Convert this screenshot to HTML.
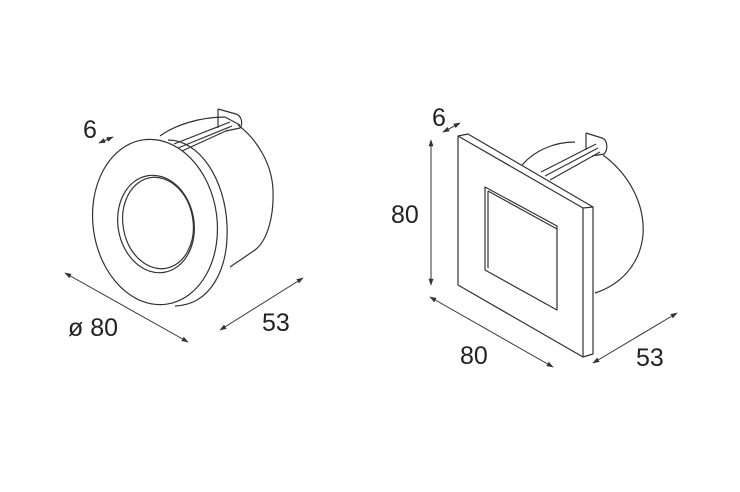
<!DOCTYPE html>
<html><head><meta charset="utf-8"><style>
html,body{margin:0;padding:0;background:#fff;}
svg{display:block;}
text{font-family:"Liberation Sans",Arial,sans-serif;fill:#222;}
</style></head><body>
<svg width="740" height="492" viewBox="0 0 740 492" xmlns="http://www.w3.org/2000/svg">
<defs>
<marker id="a" viewBox="0 0 10 10" refX="9" refY="5" markerWidth="7" markerHeight="7" orient="auto-start-reverse"><path d="M0,1.5 L10,5 L0,8.5 z" fill="#333"/></marker>
</defs>
<g fill="none" stroke="#333" stroke-width="1.2" stroke-linejoin="round">
<path d="M160,136 C175,125 200,117 225,117 M238,125 C258,140 272,165 273,190 C274,215 268,240 255,250 L230,267"/>
<path d="M225,117 L240,125"/>
<path d="M218,109 L236,114 C242,116 243,124 240,128 L226,131"/>
<path d="M218,109 L218,128"/>
<path d="M232,126 L178,148 M230,122 L174,144 M228,130 L182,151"/>
<path d="M168,140 C200,140 225,180 227,225 C229,270 210,305 175,306"/>
<ellipse cx="155" cy="222" rx="62" ry="83" transform="rotate(-8 155 222)" fill="#fff"/>
<ellipse cx="156" cy="224" rx="38" ry="49" transform="rotate(-10 156 224)"/>
<ellipse cx="158" cy="223" rx="35" ry="46" transform="rotate(-10 158 223)"/>

<path d="M522,165 C535,150 555,142 575,142"/>
<path d="M603,155 C630,175 645,205 643,235 C640,265 620,285 595,293"/>
<path d="M586,133 L602,138 C608,140 608,150 604,154 L592,156"/>
<path d="M586,133 L586,150"/>
<path d="M598,148 L545,176 M596,144 L541,172 M600,152 L550,180"/>
<path d="M458,136 L468,134 L593,207 L593,354 L583,357" fill="#fff"/>
<path d="M458,136 L583,208 L583,357 L458,285 Z" fill="#fff"/>
<path d="M583,208 L593,207"/>
<path d="M485,187 L557,226 L557,310 L485,270 Z"/>
<path d="M488,191 L557,229 M488,191 L488,268"/>

<g stroke-width="1">
<line x1="99" y1="143" x2="113" y2="137" marker-start="url(#a)" marker-end="url(#a)"/>
<line x1="65" y1="273" x2="188" y2="342" marker-start="url(#a)" marker-end="url(#a)"/>
<line x1="220" y1="330" x2="303" y2="278" marker-start="url(#a)" marker-end="url(#a)"/>
<line x1="443" y1="132" x2="460" y2="123" marker-start="url(#a)" marker-end="url(#a)"/>
<line x1="431" y1="140" x2="431" y2="285" marker-start="url(#a)" marker-end="url(#a)"/>
<line x1="430" y1="297" x2="553" y2="367" marker-start="url(#a)" marker-end="url(#a)"/>
<line x1="593" y1="363" x2="677" y2="313" marker-start="url(#a)" marker-end="url(#a)"/>
</g>
</g>
<g font-size="25">
<text x="83" y="138">6</text>
<text x="68" y="336">ø 80</text>
<text x="262" y="331">53</text>
<text x="432" y="126">6</text>
<text x="391" y="223">80</text>
<text x="460" y="364">80</text>
<text x="636" y="366">53</text>
</g>
</svg>
</body></html>
